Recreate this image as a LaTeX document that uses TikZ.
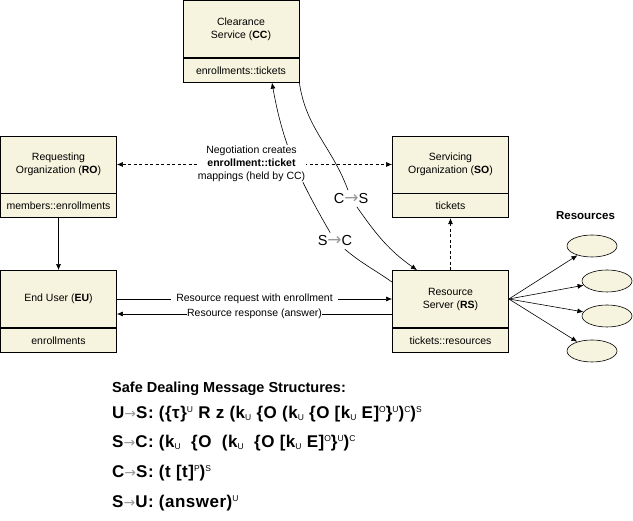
\documentclass[tikz,border=0pt]{standalone}
\usepackage{fontspec}
\setmainfont{Liberation Sans}
\newfontfamily\msgfont[LetterSpace=3]{Liberation Sans}
\newfontfamily\arrowfont{DejaVu Sans}
\usetikzlibrary{positioning, arrows.meta, calc, shapes.geometric}

\definecolor{boxfill}{RGB}{246,244,222}
\newcommand{\sarrow}[1][14]{{\color{black!40}\arrowfont\fontsize{#1}{#1}\selectfont\mdseries→}}
\newcommand{\supx}[1]{\raisebox{6.5pt}{\fontsize{8.5}{8.5}\selectfont\mdseries #1}}
\newcommand{\subx}[1]{\raisebox{-1.5pt}{\fontsize{8.5}{8.5}\selectfont\mdseries #1}}

\begin{document}
\begin{tikzpicture}[
    x=1pt, y=1pt,
    font=\fontsize{10.5}{13}\selectfont,
    headbox/.style={
        draw=black, line width=0.8pt, fill=boxfill,
        minimum width=116pt, minimum height=57pt, inner sep=2pt,
        align=center
    },
    attrbox/.style={
        draw=black, line width=0.8pt, fill=boxfill,
        minimum width=116pt, minimum height=24pt, inner sep=2pt,
        below=0pt of #1
    },
    resbox/.style={
        draw=black, line width=0.6pt, fill=boxfill, ellipse,
        minimum width=50pt, minimum height=22pt, inner sep=0pt
    },
    flowarrow/.style={
        -{Latex[length=6pt, width=5pt]}, line width=0.6pt
    },
    msgline/.style={
        anchor=base west, inner sep=0pt,
        font=\msgfont\bfseries\fontsize{17}{19}\selectfont
    },
    curvelabel/.style={
        inner sep=3pt, font=\fontsize{14.5}{14.5}\selectfont
    }
]
\useasboundingbox (0,0) rectangle (633,521);

% --- Parties ---
\node[headbox] (cc) at (241,492) {Clearance\\Service (\textbf{CC})};
\node[attrbox=cc] (ccx) {enrollments::tickets};

\node[headbox] (ro) at (58.5,356.5) {Requesting\\Organization (\textbf{RO})};
\node[attrbox=ro] (rox) {members::enrollments};

\node[headbox] (so) at (450.5,356.5) {Servicing\\Organization (\textbf{SO})};
\node[attrbox=so] (sox) {tickets};

\node[headbox] (eu) at (58.5,222) {End User (\textbf{EU})};
\node[attrbox=eu] (eux) {enrollments};

\node[headbox] (rs) at (450.5,222) {Resource\\Server (\textbf{RS})};
\node[attrbox=rs] (rsx) {tickets::resources};

% --- Resources ---
\node[font=\bfseries\fontsize{11.5}{13}\selectfont] (reslbl) at (585.5,305) {Resources};
\node[resbox] (r1) at (592,275) {};
\node[resbox] (r2) at (607,240) {};
\node[resbox] (r3) at (607,205) {};
\node[resbox] (r4) at (592,170) {};

\foreach \r in {r1,r2,r3,r4}
    \draw[flowarrow] (rs.east) -- (\r);

% --- CC <-> RS messages ---
\node[curvelabel] (cslbl) at (351,322.5) {C\sarrow[17]S};
\node[curvelabel] (sclbl) at (335,280) {S\sarrow[17]C};

\draw[line width=0.6pt] (ccx.south east) to[out=-82, in=110] (cslbl);
\draw[flowarrow] (cslbl) to[out=-55, in=145] ([xshift=-33.5pt]rs.north);
\draw[line width=0.6pt] ([yshift=-12pt]rs.north west) to[out=145, in=-40] (sclbl);
\draw[flowarrow] (sclbl) to[out=120, in=-80] ([xshift=31pt]ccx.south);

% --- Other connectors ---
\draw[{Latex[length=6pt, width=5pt]}-{Latex[length=6pt, width=5pt]}, line width=0.6pt,
    dash pattern=on 3pt off 2.5pt] (ro.east) -- (so.west);
\node[fill=white, inner sep=1pt, align=center, font=\fontsize{10.5}{13}\selectfont] (nego) at (251.5,357.5)
    {Negotiation creates\\\textbf{enrollment::ticket}\\mappings (held by CC)};

\draw[flowarrow] (rox.south) -- (eu.north);
\draw[flowarrow, dash pattern=on 3pt off 2.5pt] (rs.north) -- (sox.south);

\draw[flowarrow] (eu.east) -- node[fill=white, inner xsep=5pt, inner ysep=1pt] (req)
    {Resource request with enrollment} (rs.west);
\draw[flowarrow] ([yshift=-15pt]rs.west) -- node[fill=white, inner xsep=0.5pt, inner ysep=1pt] (resp)
    {Resource response (answer)} ([yshift=-15pt]eu.east);

% --- Message structures ---
\node[anchor=base west, inner sep=0pt, font=\bfseries\fontsize{14.5}{16}\selectfont] (msgtitle)
    at (112,128) {Safe Dealing Message Structures:};
\node[msgline] (m1) at (112,102)
    {U\sarrow S: (\{τ\}\supx{U} R z (k\subx{U} \{O (k\subx{U} \{O [k\subx{U} E]\supx{O}\}\supx{U})\supx{C})\supx{S}};
\node[msgline] (m2) at (112,73)
    {S\sarrow C: (k\subx{U}\ \ \{O\ \ (k\subx{U}\ \ \{O [k\subx{U} E]\supx{O}\}\supx{U})\supx{C}};
\node[msgline] (m3) at (112,43)
    {C\sarrow S: (t [t]\supx{P})\supx{S}};
\node[msgline] (m4) at (112,13)
    {S\sarrow U: (answer)\supx{U}};

\end{tikzpicture}
\end{document}
